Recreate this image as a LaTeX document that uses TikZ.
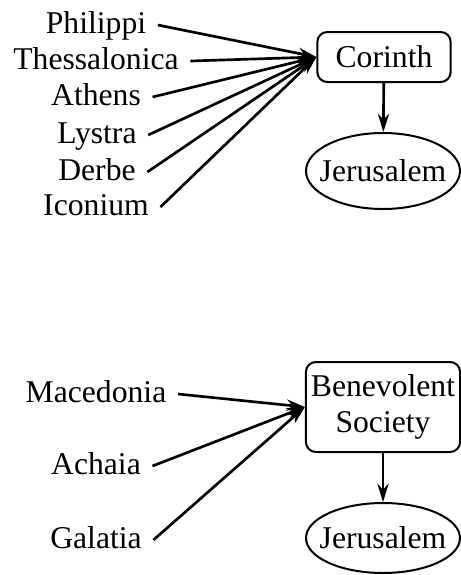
\documentclass[tikz,border=0pt]{standalone}
\usepackage{fontspec}
\setmainfont{Liberation Serif}
\usetikzlibrary{arrows.meta, positioning, shapes.geometric}

\begin{document}
\begin{tikzpicture}[
    x=0.3pt, y=-0.3pt,
    every node/.style={font=\fontsize{9.5}{10.8}\selectfont},
    place/.style={inner xsep=3.3pt, inner ysep=0pt, text height=6.7pt, text depth=1.9pt},
    church/.style={draw, line width=0.6pt, rounded corners=3pt, align=center, inner sep=1.5pt, minimum width=40pt},
    city/.style={draw, ellipse, line width=0.6pt, inner xsep=-5pt, inner ysep=0pt, minimum width=46.2pt},
    arrow/.style={-{Stealth[length=5.5pt, width=3.4pt, inset=1.8pt]}, line width=0.8pt}
]
    \useasboundingbox (0,0) rectangle (461,575);

    % first collection
    \node[church, minimum height=15pt] (corinth) at (384,57) {Corinth};
    \node[city, minimum height=22.8pt] (jerusalemA) at (383,171) {Jerusalem};

    \node[place] (philippi) at (96,25) {Philippi};
    \node[place] (thessalonica) at (96,61) {Thessalonica};
    \node[place] (athens) at (96,97) {Athens};
    \node[place] (lystra) at (97,135) {Lystra};
    \node[place] (derbe) at (97,172) {Derbe};
    \node[place] (iconium) at (96,207) {Iconium};

    \draw[arrow] (philippi.east) -- (corinth.west);
    \draw[arrow] (thessalonica.east) -- (corinth.west);
    \draw[arrow] (athens.east) -- (corinth.west);
    \draw[arrow] (lystra.east) -- (corinth.west);
    \draw[arrow] (derbe.east) -- (corinth.west);
    \draw[arrow] (iconium.east) -- (corinth.west);
    \draw[arrow] (corinth) -- (jerusalemA);

    % second collection
    \node[church, minimum width=46.2pt, minimum height=27pt] (society) at (383,407) {Benevolent\\ Society};
    \node[city, minimum height=21pt] (jerusalemB) at (383,538) {Jerusalem};

    \node[place] (macedonia) at (96,394) {Macedonia};
    \node[place] (achaia) at (96,466) {Achaia};
    \node[place] (galatia) at (96,540) {Galatia};

    \draw[arrow] (macedonia.east) -- (society.west);
    \draw[arrow] (achaia.east) -- (society.west);
    \draw[arrow] (galatia.east) -- (society.west);
    \draw[arrow] (society) -- (jerusalemB);
\end{tikzpicture}
\end{document}
